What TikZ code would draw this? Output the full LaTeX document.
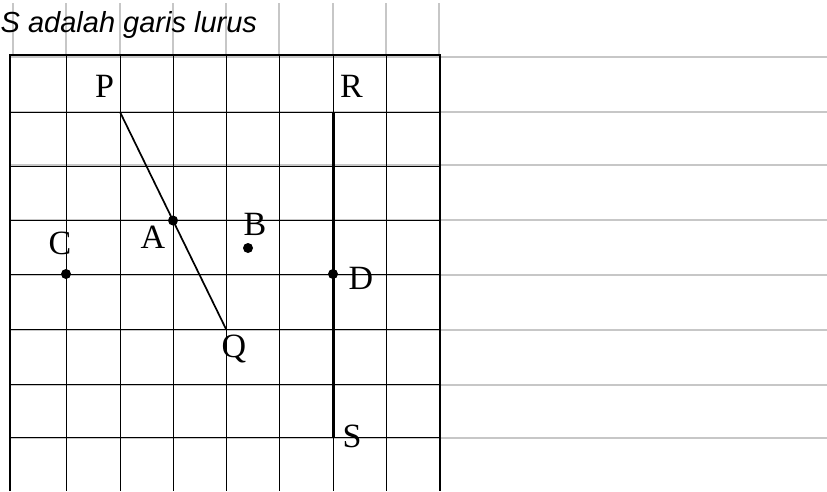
\documentclass[tikz,border=0pt]{standalone}
\usepackage{fontspec}
\setmainfont{Liberation Serif}
\newfontfamily\titlefont{Liberation Sans}

\begin{document}
\begin{tikzpicture}[yscale=-1,
  ruling/.style={draw=black!22, line width=1.5pt},
  gridline/.style={draw=black, line width=1pt},
  dot/.style={circle, fill=black, inner sep=0pt, minimum size=10pt},
  lbl/.style={anchor=base, inner sep=0pt, font=\fontsize{34}{40}\selectfont}]
\useasboundingbox (0,0) rectangle (827pt,491pt);
% ruled paper behind the grid
\foreach \y in {57, 112, 165, 220, 275, 330, 385, 438} {
  \draw [ruling] (10pt, \y pt) -- (827pt, \y pt);
}
\foreach \x in {13, 66, 120, 173, 226, 279, 333, 386, 439} {
  \draw [ruling] (\x pt, 3pt) -- (\x pt, 55pt);
}
\node [anchor=base west, inner sep=0pt, font=\titlefont\itshape\fontsize{29}{34}\selectfont] (title) at (0.5pt, 32pt) {S adalah garis lurus};
% grid
\foreach \x in {66, 120, 173, 226, 279, 333, 386} {
  \draw [gridline] (\x pt, 55pt) -- (\x pt, 491pt);
}
\foreach \y in {112, 166, 220, 274, 329, 384, 437} {
  \draw [gridline] (10pt, \y pt) -- (440pt, \y pt);
}
\draw [line width=2.4pt] (10pt, 491pt) -- (10pt, 55pt) -- (440pt, 55pt) -- (440pt, 491pt);
% points
\coordinate (P) at (120pt, 112pt);
\coordinate (Q) at (226pt, 329pt);
\coordinate (R) at (333pt, 112pt);
\coordinate (S) at (333pt, 437pt);
\draw [line width=1.7pt] (P) -- (Q);
\draw [line width=3pt] (R) -- (S);
\node [dot] (A) at (173pt, 220.5pt) {};
\node [dot] (B) at (248pt, 248pt) {};
\node [dot] (C) at (66pt, 274pt) {};
\node [dot] (D) at (333pt, 274pt) {};
% labels
\node [lbl] (labP) at (104.5pt, 97pt) {P};
\node [lbl] (labR) at (351.5pt, 97pt) {R};
\node [lbl] (labA) at (153pt, 248pt) {A};
\node [lbl] (labB) at (255pt, 235pt) {B};
\node [lbl] (labC) at (60pt, 254pt) {C};
\node [lbl] (labD) at (361pt, 289pt) {D};
\node [lbl] (labQ) at (234pt, 357pt) {Q};
\node [lbl] (labS) at (352pt, 447pt) {S};
\end{tikzpicture}
\end{document}
